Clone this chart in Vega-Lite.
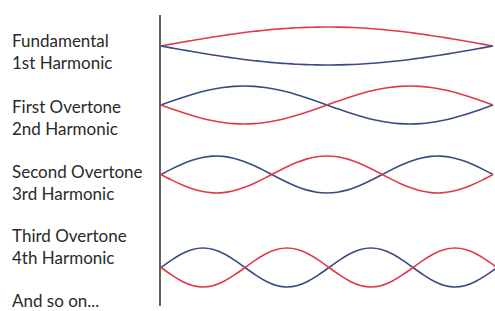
{
  "$schema": "https://vega.github.io/schema/vega-lite/v6.json",
  "width": 495,
  "height": 311,
  "padding": 0,
  "autosize": {"type": "fit", "contains": "padding"},
  "background": "white",
  "config": {"view": {"stroke": null}},
  "datasets": {
    "axis": [{"x": 160, "y": 15, "y2": 306}],
    "labels": [
      {"label": "Fundamental", "x": 12, "y": 47},
      {"label": "1st Harmonic", "x": 12, "y": 69},
      {"label": "First Overtone", "x": 12, "y": 113},
      {"label": "2nd Harmonic", "x": 12, "y": 135},
      {"label": "Second Overtone", "x": 12, "y": 178},
      {"label": "3rd Harmonic", "x": 12, "y": 200},
      {"label": "Third Overtone", "x": 12, "y": 242},
      {"label": "4th Harmonic", "x": 12, "y": 264},
      {"label": "And so on...", "x": 12, "y": 307}
    ],
    "waves": [
      {"s":"1r","c":"red","x":161,"y":46},{"s":"1r","c":"red","x":171.4,"y":44.14},{"s":"1r","c":"red","x":181.8,"y":42.29},{"s":"1r","c":"red","x":192.1,"y":40.48},{"s":"1r","c":"red","x":202.5,"y":38.73},{"s":"1r","c":"red","x":212.9,"y":37.04},{"s":"1r","c":"red","x":223.3,"y":35.44},{"s":"1r","c":"red","x":233.6,"y":33.95},{"s":"1r","c":"red","x":244,"y":32.56},{"s":"1r","c":"red","x":254.4,"y":31.31},{"s":"1r","c":"red","x":264.8,"y":30.2},{"s":"1r","c":"red","x":275.1,"y":29.24},{"s":"1r","c":"red","x":285.5,"y":28.45},{"s":"1r","c":"red","x":295.9,"y":27.82},{"s":"1r","c":"red","x":306.3,"y":27.36},{"s":"1r","c":"red","x":316.6,"y":27.09},{"s":"1r","c":"red","x":327,"y":27},{"s":"1r","c":"red","x":337.4,"y":27.09},{"s":"1r","c":"red","x":347.8,"y":27.36},{"s":"1r","c":"red","x":358.1,"y":27.82},{"s":"1r","c":"red","x":368.5,"y":28.45},{"s":"1r","c":"red","x":378.9,"y":29.24},{"s":"1r","c":"red","x":389.3,"y":30.2},{"s":"1r","c":"red","x":399.6,"y":31.31},{"s":"1r","c":"red","x":410,"y":32.56},{"s":"1r","c":"red","x":420.4,"y":33.95},{"s":"1r","c":"red","x":430.8,"y":35.44},{"s":"1r","c":"red","x":441.1,"y":37.04},{"s":"1r","c":"red","x":451.5,"y":38.73},{"s":"1r","c":"red","x":461.9,"y":40.48},{"s":"1r","c":"red","x":472.3,"y":42.29},{"s":"1r","c":"red","x":482.6,"y":44.14},{"s":"1r","c":"red","x":493,"y":46},
      {"s":"1b","c":"blue","x":161,"y":46},{"s":"1b","c":"blue","x":171.4,"y":47.86},{"s":"1b","c":"blue","x":181.8,"y":49.71},{"s":"1b","c":"blue","x":192.1,"y":51.52},{"s":"1b","c":"blue","x":202.5,"y":53.27},{"s":"1b","c":"blue","x":212.9,"y":54.96},{"s":"1b","c":"blue","x":223.3,"y":56.56},{"s":"1b","c":"blue","x":233.6,"y":58.05},{"s":"1b","c":"blue","x":244,"y":59.44},{"s":"1b","c":"blue","x":254.4,"y":60.69},{"s":"1b","c":"blue","x":264.8,"y":61.8},{"s":"1b","c":"blue","x":275.1,"y":62.76},{"s":"1b","c":"blue","x":285.5,"y":63.55},{"s":"1b","c":"blue","x":295.9,"y":64.18},{"s":"1b","c":"blue","x":306.3,"y":64.64},{"s":"1b","c":"blue","x":316.6,"y":64.91},{"s":"1b","c":"blue","x":327,"y":65},{"s":"1b","c":"blue","x":337.4,"y":64.91},{"s":"1b","c":"blue","x":347.8,"y":64.64},{"s":"1b","c":"blue","x":358.1,"y":64.18},{"s":"1b","c":"blue","x":368.5,"y":63.55},{"s":"1b","c":"blue","x":378.9,"y":62.76},{"s":"1b","c":"blue","x":389.3,"y":61.8},{"s":"1b","c":"blue","x":399.6,"y":60.69},{"s":"1b","c":"blue","x":410,"y":59.44},{"s":"1b","c":"blue","x":420.4,"y":58.05},{"s":"1b","c":"blue","x":430.8,"y":56.56},{"s":"1b","c":"blue","x":441.1,"y":54.96},{"s":"1b","c":"blue","x":451.5,"y":53.27},{"s":"1b","c":"blue","x":461.9,"y":51.52},{"s":"1b","c":"blue","x":472.3,"y":49.71},{"s":"1b","c":"blue","x":482.6,"y":47.86},{"s":"1b","c":"blue","x":493,"y":46},
      {"s":"2b","c":"blue","x":161,"y":105},{"s":"2b","c":"blue","x":171.4,"y":101.29},{"s":"2b","c":"blue","x":181.8,"y":97.73},{"s":"2b","c":"blue","x":192.1,"y":94.44},{"s":"2b","c":"blue","x":202.5,"y":91.57},{"s":"2b","c":"blue","x":212.9,"y":89.2},{"s":"2b","c":"blue","x":223.3,"y":87.45},{"s":"2b","c":"blue","x":233.6,"y":86.36},{"s":"2b","c":"blue","x":244,"y":86},{"s":"2b","c":"blue","x":254.4,"y":86.36},{"s":"2b","c":"blue","x":264.8,"y":87.45},{"s":"2b","c":"blue","x":275.1,"y":89.2},{"s":"2b","c":"blue","x":285.5,"y":91.57},{"s":"2b","c":"blue","x":295.9,"y":94.44},{"s":"2b","c":"blue","x":306.3,"y":97.73},{"s":"2b","c":"blue","x":316.6,"y":101.29},{"s":"2b","c":"blue","x":327,"y":105},{"s":"2b","c":"blue","x":337.4,"y":108.71},{"s":"2b","c":"blue","x":347.8,"y":112.27},{"s":"2b","c":"blue","x":358.1,"y":115.56},{"s":"2b","c":"blue","x":368.5,"y":118.43},{"s":"2b","c":"blue","x":378.9,"y":120.8},{"s":"2b","c":"blue","x":389.3,"y":122.55},{"s":"2b","c":"blue","x":399.6,"y":123.64},{"s":"2b","c":"blue","x":410,"y":124},{"s":"2b","c":"blue","x":420.4,"y":123.64},{"s":"2b","c":"blue","x":430.8,"y":122.55},{"s":"2b","c":"blue","x":441.1,"y":120.8},{"s":"2b","c":"blue","x":451.5,"y":118.43},{"s":"2b","c":"blue","x":461.9,"y":115.56},{"s":"2b","c":"blue","x":472.3,"y":112.27},{"s":"2b","c":"blue","x":482.6,"y":108.71},{"s":"2b","c":"blue","x":493,"y":105},
      {"s":"2r","c":"red","x":161,"y":105},{"s":"2r","c":"red","x":171.4,"y":108.71},{"s":"2r","c":"red","x":181.8,"y":112.27},{"s":"2r","c":"red","x":192.1,"y":115.56},{"s":"2r","c":"red","x":202.5,"y":118.43},{"s":"2r","c":"red","x":212.9,"y":120.8},{"s":"2r","c":"red","x":223.3,"y":122.55},{"s":"2r","c":"red","x":233.6,"y":123.64},{"s":"2r","c":"red","x":244,"y":124},{"s":"2r","c":"red","x":254.4,"y":123.64},{"s":"2r","c":"red","x":264.8,"y":122.55},{"s":"2r","c":"red","x":275.1,"y":120.8},{"s":"2r","c":"red","x":285.5,"y":118.43},{"s":"2r","c":"red","x":295.9,"y":115.56},{"s":"2r","c":"red","x":306.3,"y":112.27},{"s":"2r","c":"red","x":316.6,"y":108.71},{"s":"2r","c":"red","x":327,"y":105},{"s":"2r","c":"red","x":337.4,"y":101.29},{"s":"2r","c":"red","x":347.8,"y":97.73},{"s":"2r","c":"red","x":358.1,"y":94.44},{"s":"2r","c":"red","x":368.5,"y":91.57},{"s":"2r","c":"red","x":378.9,"y":89.2},{"s":"2r","c":"red","x":389.3,"y":87.45},{"s":"2r","c":"red","x":399.6,"y":86.36},{"s":"2r","c":"red","x":410,"y":86},{"s":"2r","c":"red","x":420.4,"y":86.36},{"s":"2r","c":"red","x":430.8,"y":87.45},{"s":"2r","c":"red","x":441.1,"y":89.2},{"s":"2r","c":"red","x":451.5,"y":91.57},{"s":"2r","c":"red","x":461.9,"y":94.44},{"s":"2r","c":"red","x":472.3,"y":97.73},{"s":"2r","c":"red","x":482.6,"y":101.29},{"s":"2r","c":"red","x":493,"y":105},
      {"s":"3b","c":"blue","x":161,"y":174.5},{"s":"3b","c":"blue","x":171.4,"y":169.13},{"s":"3b","c":"blue","x":181.8,"y":164.22},{"s":"3b","c":"blue","x":192.1,"y":160.2},{"s":"3b","c":"blue","x":202.5,"y":157.41},{"s":"3b","c":"blue","x":212.9,"y":156.09},{"s":"3b","c":"blue","x":223.3,"y":156.35},{"s":"3b","c":"blue","x":233.6,"y":158.18},{"s":"3b","c":"blue","x":244,"y":161.42},{"s":"3b","c":"blue","x":254.4,"y":165.78},{"s":"3b","c":"blue","x":264.8,"y":170.89},{"s":"3b","c":"blue","x":275.1,"y":176.31},{"s":"3b","c":"blue","x":285.5,"y":181.58},{"s":"3b","c":"blue","x":295.9,"y":186.24},{"s":"3b","c":"blue","x":306.3,"y":189.88},{"s":"3b","c":"blue","x":316.6,"y":192.2},{"s":"3b","c":"blue","x":327,"y":193},{"s":"3b","c":"blue","x":337.4,"y":192.2},{"s":"3b","c":"blue","x":347.8,"y":189.88},{"s":"3b","c":"blue","x":358.1,"y":186.24},{"s":"3b","c":"blue","x":368.5,"y":181.58},{"s":"3b","c":"blue","x":378.9,"y":176.31},{"s":"3b","c":"blue","x":389.3,"y":170.89},{"s":"3b","c":"blue","x":399.6,"y":165.78},{"s":"3b","c":"blue","x":410,"y":161.42},{"s":"3b","c":"blue","x":420.4,"y":158.18},{"s":"3b","c":"blue","x":430.8,"y":156.35},{"s":"3b","c":"blue","x":441.1,"y":156.09},{"s":"3b","c":"blue","x":451.5,"y":157.41},{"s":"3b","c":"blue","x":461.9,"y":160.2},{"s":"3b","c":"blue","x":472.3,"y":164.22},{"s":"3b","c":"blue","x":482.6,"y":169.13},{"s":"3b","c":"blue","x":493,"y":174.5},
      {"s":"3r","c":"red","x":161,"y":174.5},{"s":"3r","c":"red","x":171.4,"y":179.87},{"s":"3r","c":"red","x":181.8,"y":184.78},{"s":"3r","c":"red","x":192.1,"y":188.8},{"s":"3r","c":"red","x":202.5,"y":191.59},{"s":"3r","c":"red","x":212.9,"y":192.91},{"s":"3r","c":"red","x":223.3,"y":192.65},{"s":"3r","c":"red","x":233.6,"y":190.82},{"s":"3r","c":"red","x":244,"y":187.58},{"s":"3r","c":"red","x":254.4,"y":183.22},{"s":"3r","c":"red","x":264.8,"y":178.11},{"s":"3r","c":"red","x":275.1,"y":172.69},{"s":"3r","c":"red","x":285.5,"y":167.42},{"s":"3r","c":"red","x":295.9,"y":162.76},{"s":"3r","c":"red","x":306.3,"y":159.12},{"s":"3r","c":"red","x":316.6,"y":156.8},{"s":"3r","c":"red","x":327,"y":156},{"s":"3r","c":"red","x":337.4,"y":156.8},{"s":"3r","c":"red","x":347.8,"y":159.12},{"s":"3r","c":"red","x":358.1,"y":162.76},{"s":"3r","c":"red","x":368.5,"y":167.42},{"s":"3r","c":"red","x":378.9,"y":172.69},{"s":"3r","c":"red","x":389.3,"y":178.11},{"s":"3r","c":"red","x":399.6,"y":183.22},{"s":"3r","c":"red","x":410,"y":187.58},{"s":"3r","c":"red","x":420.4,"y":190.82},{"s":"3r","c":"red","x":430.8,"y":192.65},{"s":"3r","c":"red","x":441.1,"y":192.91},{"s":"3r","c":"red","x":451.5,"y":191.59},{"s":"3r","c":"red","x":461.9,"y":188.8},{"s":"3r","c":"red","x":472.3,"y":184.78},{"s":"3r","c":"red","x":482.6,"y":179.87},{"s":"3r","c":"red","x":493,"y":174.5},
      {"s":"4b","c":"blue","x":161,"y":267.5},{"s":"4b","c":"blue","x":171.5,"y":260.04},{"s":"4b","c":"blue","x":182,"y":253.71},{"s":"4b","c":"blue","x":192.5,"y":249.48},{"s":"4b","c":"blue","x":203,"y":248},{"s":"4b","c":"blue","x":213.5,"y":249.48},{"s":"4b","c":"blue","x":224,"y":253.71},{"s":"4b","c":"blue","x":234.5,"y":260.04},{"s":"4b","c":"blue","x":245,"y":267.5},{"s":"4b","c":"blue","x":255.5,"y":274.96},{"s":"4b","c":"blue","x":266,"y":281.29},{"s":"4b","c":"blue","x":276.5,"y":285.52},{"s":"4b","c":"blue","x":287,"y":287},{"s":"4b","c":"blue","x":297.5,"y":285.52},{"s":"4b","c":"blue","x":308,"y":281.29},{"s":"4b","c":"blue","x":318.5,"y":274.96},{"s":"4b","c":"blue","x":329,"y":267.5},{"s":"4b","c":"blue","x":339.5,"y":260.04},{"s":"4b","c":"blue","x":350,"y":253.71},{"s":"4b","c":"blue","x":360.5,"y":249.48},{"s":"4b","c":"blue","x":371,"y":248},{"s":"4b","c":"blue","x":381.5,"y":249.48},{"s":"4b","c":"blue","x":392,"y":253.71},{"s":"4b","c":"blue","x":402.5,"y":260.04},{"s":"4b","c":"blue","x":413,"y":267.5},{"s":"4b","c":"blue","x":423.5,"y":274.96},{"s":"4b","c":"blue","x":434,"y":281.29},{"s":"4b","c":"blue","x":444.5,"y":285.52},{"s":"4b","c":"blue","x":455,"y":287},{"s":"4b","c":"blue","x":465.5,"y":285.52},{"s":"4b","c":"blue","x":476,"y":281.29},{"s":"4b","c":"blue","x":486.5,"y":274.96},{"s":"4b","c":"blue","x":497,"y":267.5},
      {"s":"4r","c":"red","x":161,"y":267.5},{"s":"4r","c":"red","x":171.5,"y":274.96},{"s":"4r","c":"red","x":182,"y":281.29},{"s":"4r","c":"red","x":192.5,"y":285.52},{"s":"4r","c":"red","x":203,"y":287},{"s":"4r","c":"red","x":213.5,"y":285.52},{"s":"4r","c":"red","x":224,"y":281.29},{"s":"4r","c":"red","x":234.5,"y":274.96},{"s":"4r","c":"red","x":245,"y":267.5},{"s":"4r","c":"red","x":255.5,"y":260.04},{"s":"4r","c":"red","x":266,"y":253.71},{"s":"4r","c":"red","x":276.5,"y":249.48},{"s":"4r","c":"red","x":287,"y":248},{"s":"4r","c":"red","x":297.5,"y":249.48},{"s":"4r","c":"red","x":308,"y":253.71},{"s":"4r","c":"red","x":318.5,"y":260.04},{"s":"4r","c":"red","x":329,"y":267.5},{"s":"4r","c":"red","x":339.5,"y":274.96},{"s":"4r","c":"red","x":350,"y":281.29},{"s":"4r","c":"red","x":360.5,"y":285.52},{"s":"4r","c":"red","x":371,"y":287},{"s":"4r","c":"red","x":381.5,"y":285.52},{"s":"4r","c":"red","x":392,"y":281.29},{"s":"4r","c":"red","x":402.5,"y":274.96},{"s":"4r","c":"red","x":413,"y":267.5},{"s":"4r","c":"red","x":423.5,"y":260.04},{"s":"4r","c":"red","x":434,"y":253.71},{"s":"4r","c":"red","x":444.5,"y":249.48},{"s":"4r","c":"red","x":455,"y":248},{"s":"4r","c":"red","x":465.5,"y":249.48},{"s":"4r","c":"red","x":476,"y":253.71},{"s":"4r","c":"red","x":486.5,"y":260.04},{"s":"4r","c":"red","x":497,"y":267.5}
    ]
  },
  "layer": [
    {
      "data": {"name": "axis"},
      "mark": {"type": "rule", "color": "#3a3a3a", "strokeWidth": 1.6},
      "encoding": {
        "x": {"field": "x", "type": "quantitative", "scale": {"domain": [0, 495], "nice": false, "zero": false}, "axis": null},
        "y": {"field": "y", "type": "quantitative", "scale": {"domain": [0, 311], "reverse": true, "nice": false, "zero": false}, "axis": null},
        "y2": {"field": "y2"}
      }
    },
    {
      "data": {"name": "waves"},
      "mark": {"type": "line", "interpolate": "natural", "strokeWidth": 1.6, "clip": true},
      "encoding": {
        "x": {"field": "x", "type": "quantitative"},
        "y": {"field": "y", "type": "quantitative"},
        "detail": {"field": "s"},
        "color": {"field": "c", "type": "nominal", "scale": {"domain": ["red", "blue"], "range": ["#e03a4a", "#3a4a84"]}, "legend": null}
      }
    },
    {
      "data": {"name": "labels"},
      "mark": {"type": "text", "align": "left", "baseline": "alphabetic", "font": "Lato", "fontSize": 17, "color": "#2a2a2a"},
      "encoding": {
        "x": {"field": "x", "type": "quantitative"},
        "y": {"field": "y", "type": "quantitative"},
        "text": {"field": "label"}
      }
    }
  ]
}
